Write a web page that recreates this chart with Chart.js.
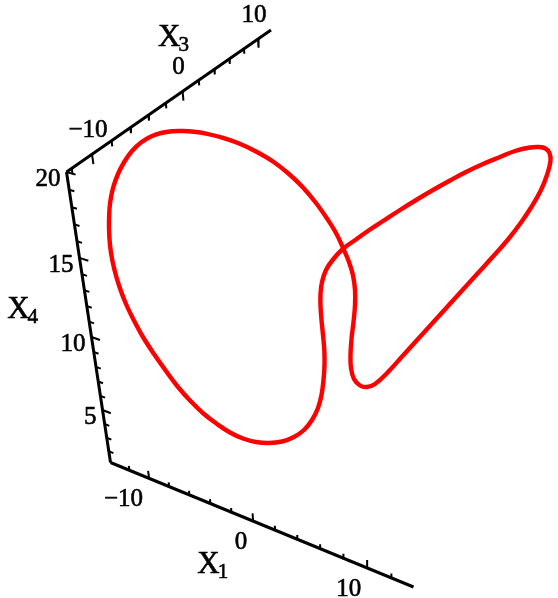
<!DOCTYPE html>
<html>
<head>
<meta charset="utf-8">
<script src="https://cdn.jsdelivr.net/npm/chart.js@4.4.0/dist/chart.umd.min.js"></script>
<style>
  body { margin: 0; background: #fff; }
  canvas { display: block; }
</style>
</head>
<body>
<canvas id="myChart" width="558" height="598"></canvas>
<script>
// box ranges of the three plotted coordinates
const x1Range = [-13.95, 13.8];
const x3Range = [-12.5, 11.9];
const x4Range = [1.16, 20];

// tick values
const x1Ticks = [-12, -10, -8, -6, -4, -2, 0, 2, 4, 6, 8, 10, 12];
const x1Labels = [-10, 0, 10];
const x3Ticks = [-12, -10, -8, -6, -4, -2, 0, 2, 4, 6, 8, 10];
const x3Labels = [-10, 0, 10];
const x4Ticks = [2, 3, 4, 5, 6, 7, 8, 9, 10, 11, 12, 13, 14, 15, 16, 17, 18, 19, 20];
const x4Labels = [5, 10, 15, 20];

// trajectory, already projected onto the view plane (starts on the straight run of the right lobe)
const curveX = [448, 463, 478, 493, 508, 521, 532, 541, 547, 550.5, 549.5, 545.5, 539, 530, 515,
  500, 483, 466, 450, 433, 417, 400, 383, 370, 356, 343.3, 333, 326, 322, 320.5, 320.5, 321.5,
  323, 324.3, 324.5, 323.5, 321.5, 318, 312, 304, 294, 282, 269, 256, 243, 230, 217, 204, 191,
  178, 166, 154, 143, 134, 126, 119.5, 114.5, 111, 109.3, 109, 110, 113, 118, 124.5, 132, 141,
  151, 161, 172, 183, 194, 206, 220, 238, 256, 273, 289, 303, 316, 327, 336, 343.3, 349, 353,
  355, 355, 353.5, 351.5, 350.5, 351, 354, 360, 367, 375, 388, 403, 418, 433, 448];
const curveY = [306, 289.5, 273, 256.5, 239.5, 222.5, 206, 190, 175, 161, 153, 148.5, 147, 147.5,
  151, 157, 164, 172, 180.5, 190, 199.5, 210, 221, 229.5, 239.5, 248.5, 259.5, 270, 282, 294,
  306, 320, 335, 350, 365, 380, 395, 408, 420, 430, 437, 441.5, 443, 442, 438.5, 432.5, 424, 414,
  401.5, 387, 371, 354, 337, 320.5, 304, 287, 270, 253, 236.5, 220, 203.5, 188, 174, 161.5, 151,
  142.5, 136.5, 133, 131.2, 131, 131.8, 133.6, 137, 143, 151.5, 161.5, 174, 187.5, 203, 218.5,
  233, 248.5, 262, 275.5, 290, 305, 322, 339, 355, 368, 379, 385.5, 387, 384, 372, 355.5, 339,
  322.5, 306];

// perspective camera: screen corners of the box and depth change along each axis
const cam = {
  origin: [110.5, 462.5],   // (x1 min, x3 min, x4 min)
  x1End: [413.5, 587],      // (x1 max, x3 min, x4 min)
  x4End: [66.5, 172],       // (x1 min, x3 min, x4 max)
  x3End: [271, 30],         // (x1 min, x3 max, x4 max)
  w1: -0.12, w3: -0.139, w2: 0.215
};
const V1 = [0, 1].map(k => cam.x1End[k] * (1 + cam.w1) - cam.origin[k]);
const V3 = [0, 1].map(k => cam.x4End[k] * (1 + cam.w3) - cam.origin[k]);
const V2 = [0, 1].map(k => cam.x3End[k] * (1 + cam.w2 + cam.w3) - cam.origin[k] - V3[k]);

const norm = (v, r) => (v - r[0]) / (r[1] - r[0]);

function projectT(t1, t2, t3) {
  const w = 1 + t1 * cam.w1 + t2 * cam.w2 + t3 * cam.w3;
  return {
    x: (cam.origin[0] + t1 * V1[0] + t2 * V2[0] + t3 * V3[0]) / w,
    y: (cam.origin[1] + t1 * V1[1] + t2 * V2[1] + t3 * V3[1]) / w
  };
}
function project(x1, x3, x4) {
  return projectT(norm(x1, x1Range), norm(x3, x3Range), norm(x4, x4Range));
}

const black = '#000';
const segment = (a, b, width) => ({ data: [a, b], showLine: true, borderColor: black,
  borderWidth: width, borderCapStyle: 'butt', pointRadius: 0, tension: 0, order: 2 });

const datasets = [];

// visible box edges
datasets.push(segment(projectT(0, 0, 0), projectT(1, 0, 0), 3));
datasets.push(segment(projectT(0, 0, 0), projectT(0, 0, 1), 3));
datasets.push(segment(projectT(0, 0, 1), projectT(0, 1, 1), 3));

// tick marks: X1 ticks point up (+x4), X3 ticks point down (-x4), X4 ticks point along +x1
const tickLen = (v, majors) => (majors.includes(v) ? 0.03 : 0.017);
x1Ticks.forEach(v => {
  const t = norm(v, x1Range);
  datasets.push(segment(projectT(t, 0, 0), projectT(t, 0, tickLen(v, x1Labels)), 2));
});
x3Ticks.forEach(v => {
  const t = norm(v, x3Range);
  datasets.push(segment(projectT(0, t, 1), projectT(0, t, 1 - tickLen(v, x3Labels)), 2));
});
x4Ticks.forEach(v => {
  const t = norm(v, x4Range);
  datasets.push(segment(projectT(0, 0, t), projectT(tickLen(v, x4Labels), 0, t), 2));
});

// the trajectory itself
datasets.push({
  data: curveX.map((x, i) => ({ x: x, y: curveY[i] })),
  showLine: true,
  borderColor: '#ff0000',
  borderWidth: 4.4,
  pointRadius: 0,
  tension: 0.4,
  order: 1
});

const fmt = v => (v < 0 ? '\u2212' + Math.abs(v) : String(v));
const serif = '"Liberation Serif", "DejaVu Serif", serif';

const labelPlugin = {
  id: 'axisText',
  afterDraw(chart) {
    const ctx = chart.ctx, sx = chart.scales.x, sy = chart.scales.y;
    const px = p => [sx.getPixelForValue(p.x), sy.getPixelForValue(p.y)];
    // filled and lightly stroked so the serif glyphs come out a bit heavier
    const text = (s, x, y) => { ctx.fillText(s, x, y); ctx.strokeText(s, x, y); };
    ctx.save();
    ctx.fillStyle = black;
    ctx.strokeStyle = black;
    ctx.lineWidth = 0.6;
    ctx.textBaseline = 'alphabetic';
    ctx.font = '25px ' + serif;

    ctx.textAlign = 'right';
    x1Labels.forEach(v => {
      const [x, y] = px(project(v, x3Range[0], x4Range[0]));
      text(fmt(v), x - 6, y + 28);
    });
    ctx.textAlign = 'center';
    x3Labels.forEach(v => {
      const [x, y] = px(project(x1Range[0], v, x4Range[1]));
      text(fmt(v), x - 4, y - 17);
    });
    ctx.textAlign = 'right';
    x4Labels.forEach(v => {
      const [x, y] = px(project(x1Range[0], x3Range[0], v));
      text(fmt(v), x - 6, y + 14);
    });

    // axis titles with subscripts
    const title = (p, dx, dy, sub) => {
      const [x, y] = px(p);
      ctx.textAlign = 'left';
      ctx.font = '31px ' + serif;
      text('X', x + dx, y + dy);
      const w = ctx.measureText('X').width;
      ctx.font = '21px ' + serif;
      text(sub, x + dx + w - 2, y + dy + 5);
    };
    const mid = r => (r[0] + r[1]) / 2;
    title(project(mid(x1Range), x3Range[0], x4Range[0]), -55, 52, '1');
    title(project(x1Range[0], mid(x3Range), x4Range[1]), -22, -47, '3');
    title(project(x1Range[0], x3Range[0], mid(x4Range)), -83, -10, '4');
    ctx.restore();
  }
};

const config = {
  type: 'scatter',
  data: { datasets },
  options: {
    responsive: false,
    devicePixelRatio: 1,
    animation: false,
    events: [],
    layout: { padding: 0 },
    plugins: { legend: { display: false }, tooltip: { enabled: false } },
    scales: {
      x: { type: 'linear', min: 0, max: 558, display: false },
      y: { type: 'linear', min: 0, max: 598, reverse: true, display: false }
    }
  },
  plugins: [labelPlugin]
};

const myChart = new Chart(document.getElementById('myChart'), config);
</script>
</body>
</html>
